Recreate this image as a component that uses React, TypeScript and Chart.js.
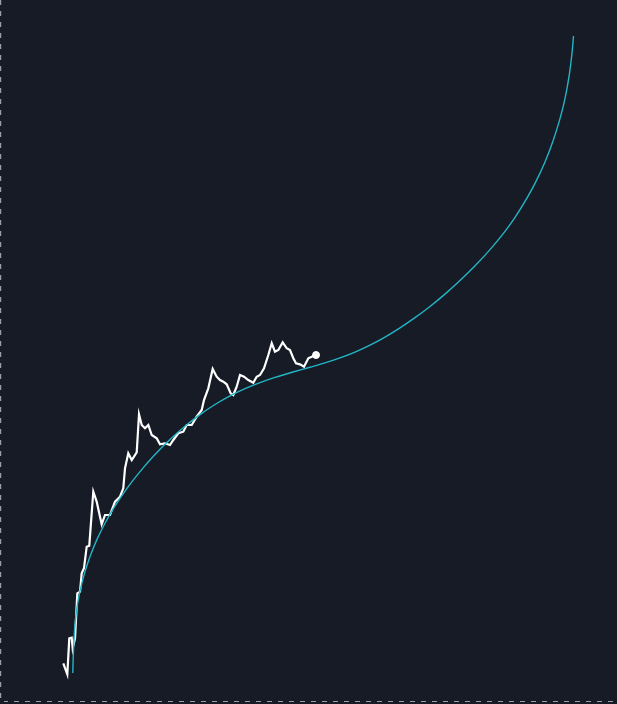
import React, { useEffect, useRef } from "react";
import { Chart, registerables } from "chart.js";

Chart.register(...registerables);

// Price-like series (x: time units 0–100, y: value units 0–100)
const priceX = [10.26, 10.91, 11.23, 11.62, 11.78, 12.16, 12.53, 12.97, 13.24, 13.61, 14.05, 14.47, 15.12, 15.67, 16.48, 17.02, 17.83, 18.64, 19.45, 19.98, 20.26, 20.79, 21.35, 22.16, 22.53, 22.97, 23.5, 24.04, 24.59, 25.4, 25.93, 26.74, 27.55, 28.09, 28.9, 29.71, 30.26, 31.07, 31.88, 32.69, 33.06, 33.76, 34.47, 35.12, 35.66, 36.19, 36.74, 37.39, 37.81, 38.36, 38.9, 39.55, 40.24, 41.05, 41.6, 42.14, 42.79, 43.49, 44.04, 44.57, 45.11, 45.82, 46.47, 47.0, 47.54, 47.97, 48.62, 49.27, 49.97, 50.52, 51.22];
const priceY = [5.78, 4.22, 9.33, 9.42, 7.91, 9.33, 15.72, 15.95, 18.57, 19.28, 22.34, 22.49, 30.16, 28.74, 25.53, 26.85, 26.85, 28.74, 29.45, 30.64, 33.48, 35.61, 34.66, 35.75, 41.15, 39.63, 39.16, 39.63, 38.21, 37.74, 36.89, 37.03, 36.79, 37.5, 38.45, 38.68, 39.63, 39.63, 40.81, 41.76, 43.18, 44.84, 47.59, 46.49, 46.02, 45.78, 45.41, 44.13, 43.89, 45.07, 46.73, 46.49, 46.02, 45.64, 46.49, 46.73, 47.68, 49.57, 51.24, 50.04, 50.28, 51.38, 50.53, 50.28, 49.11, 48.39, 48.25, 47.91, 49.11, 49.33, 49.57];

// Model curve
const modelX = [11.8, 11.88, 12.07, 12.32, 12.64, 13.13, 13.78, 14.59, 15.72, 17.02, 18.64, 20.58, 22.69, 25.12, 27.55, 29.98, 32.41, 34.85, 37.28, 39.71, 42.14, 44.57, 47.49, 50.24, 52.67, 55.11, 57.54, 59.97, 62.4, 64.83, 67.26, 69.69, 72.12, 74.55, 76.99, 79.42, 81.85, 83.47, 85.09, 86.71, 88.33, 89.63, 90.76, 91.57, 92.22, 92.71, 92.95];
const modelY = [4.4, 6.93, 10.34, 12.68, 14.6, 16.68, 18.81, 20.94, 23.38, 25.68, 28.13, 30.64, 33.01, 35.43, 37.56, 39.45, 41.11, 42.54, 43.76, 44.79, 45.65, 46.39, 47.16, 47.84, 48.45, 49.16, 49.99, 50.97, 52.12, 53.43, 54.88, 56.47, 58.22, 60.14, 62.24, 64.54, 67.13, 69.12, 71.39, 73.95, 77.0, 79.97, 83.15, 86.0, 89.12, 92.47, 94.89];

const BG = "#161b25";

export default function App() {
  const ref = useRef<HTMLCanvasElement | null>(null);

  useEffect(() => {
    document.body.style.margin = "0";
    const canvas = ref.current;
    if (!canvas) return;

    const price = priceX.map((x, i) => ({ x, y: priceY[i] }));
    const model = modelX.map((x, i) => ({ x, y: modelY[i] }));
    const last = price[price.length - 1];

    const borderPlugin = {
      id: "dashedBorder",
      afterDraw(chart: any) {
        const ctx = chart.ctx;
        const w = chart.width;
        const h = chart.height;
        ctx.save();
        ctx.strokeStyle = "#9aa0ab";
        ctx.lineWidth = 1.2;
        ctx.setLineDash([5, 6]);
        ctx.beginPath();
        ctx.moveTo(0.6, 0);
        ctx.lineTo(0.6, h);
        ctx.stroke();
        ctx.lineDashOffset = 1;
        ctx.beginPath();
        ctx.moveTo(4, h - 2.5);
        ctx.lineTo(w, h - 2.5);
        ctx.stroke();
        ctx.restore();
      },
    };

    const chart = new Chart(canvas, {
      type: "line",
      data: {
        datasets: [
          {
            data: model,
            borderColor: "#22b5c6",
            borderWidth: 1.4,
            pointRadius: 0,
            tension: 0.3,
            fill: false,
            clip: false,
          },
          {
            data: price,
            borderColor: "#ffffff",
            borderWidth: 2.2,
            pointRadius: 0,
            tension: 0,
            fill: false,
            clip: false,
          },
          {
            data: [last],
            borderColor: "#ffffff",
            backgroundColor: "#ffffff",
            pointRadius: 3.5,
            showLine: false,
            clip: false,
          },
        ],
      },
      options: {
        animation: false,
        responsive: false,
        layout: { padding: 0, autoPadding: false },
        plugins: { legend: { display: false }, tooltip: { enabled: false } },
        scales: {
          x: { type: "linear", min: 0, max: 100, display: false },
          y: { type: "linear", min: 0, max: 100, display: false },
        },
      },
      plugins: [borderPlugin],
    } as any);

    return () => chart.destroy();
  }, []);

  return (
    <div style={{ position: "fixed", left: 0, top: 0, width: 617, height: 704, background: BG }}>
      <canvas ref={ref} width={617} height={704} style={{ display: "block", background: BG }} />
    </div>
  );
}
